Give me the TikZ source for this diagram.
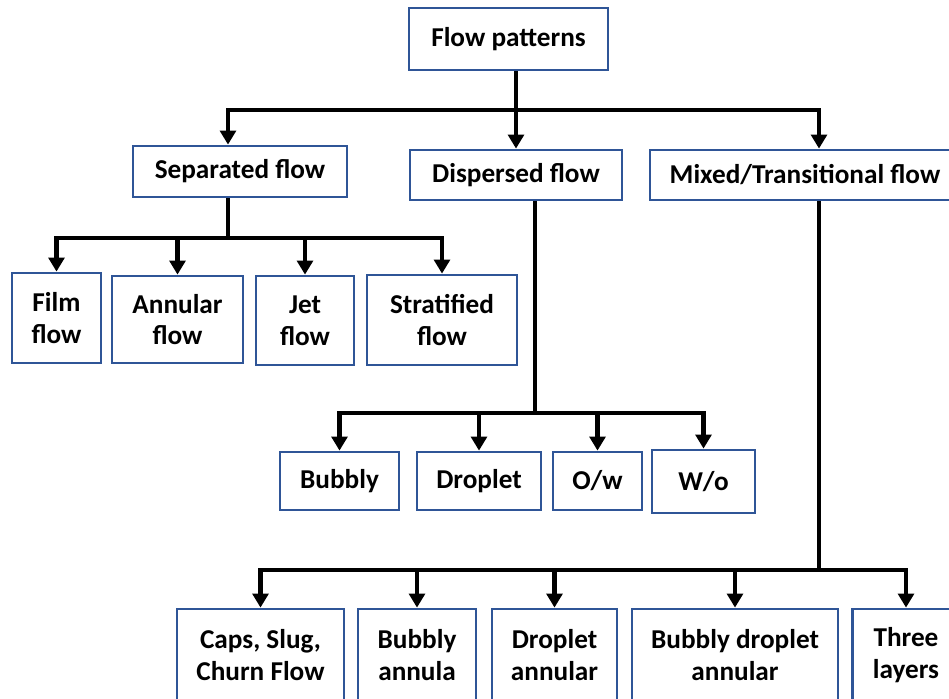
\documentclass[tikz,border=0pt]{standalone}
\usepackage{fontspec}
\setmainfont{Carlito}
\usetikzlibrary{arrows.meta}
\definecolor{boxblue}{RGB}{47,85,151}
\tikzset{box/.style={draw=boxblue,line width=1.6pt,fill=white,align=center,inner sep=0pt,
  font=\bfseries\fontsize{15.5}{18}\selectfont}}

\begin{document}
\begin{tikzpicture}[x=0.02cm,y=-0.02cm,>={Triangle[width=9pt,length=8pt]},line width=2.3pt]
    \useasboundingbox (0,0) rectangle (949,698);
    \clip (0,0) rectangle (949,698);
    % top level
    \node[box,minimum width=3.98cm,minimum height=1.24cm] (fp) at (508.5,39) {Flow patterns};
    \node[box,minimum width=4.28cm,minimum height=1.02cm] (sep) at (240,171.5) {Separated flow};
    \node[box,minimum width=4.24cm,minimum height=1cm] (dis) at (516,175) {Dispersed flow};
    \node[box,minimum width=6.2cm,minimum height=1cm] (mix) at (805,175) {Mixed/Transitional flow};
    % separated
    \node[box,minimum width=1.78cm,minimum height=1.8cm] (film) at (56.5,318) {Film\\flow};
    \node[box,minimum width=2.62cm,minimum height=1.74cm] (ann) at (177.5,319.5) {Annular\\flow};
    \node[box,minimum width=1.96cm,minimum height=1.78cm] (jet) at (305,320.5) {Jet\\flow};
    \node[box,minimum width=3cm,minimum height=1.8cm] (strat) at (442,320) {Stratified\\flow};
    % dispersed
    \node[box,minimum width=2.38cm,minimum height=1.16cm] (bub) at (339.5,481) {Bubbly};
    \node[box,minimum width=2.48cm,minimum height=1.16cm] (drop) at (479,481) {Droplet};
    \node[box,minimum width=1.78cm,minimum height=1.16cm] (ow) at (597.5,481) {O/w};
    \node[box,minimum width=2.06cm,minimum height=1.26cm] (wo) at (703.5,481.5) {W/o};
    % mixed
    \node[box,minimum width=3.34cm,minimum height=1.84cm] (caps) at (260.5,655) {Caps, Slug,\\Churn Flow};
    \node[box,minimum width=2.36cm,minimum height=1.84cm] (ba) at (417,655) {Bubbly\\annula};
    \node[box,minimum width=2.5cm,minimum height=1.84cm] (da) at (554.5,655) {Droplet\\annular};
    \node[box,minimum width=4.12cm,minimum height=1.84cm] (bda) at (735,655) {Bubbly droplet\\annular};
    \node[box,minimum width=2.14cm,minimum height=1.84cm] (three) at (906,655) {Three\\layers};
    % bus points
    \coordinate (b1) at (516,110);
    \coordinate (bs) at (228,238);
    \coordinate (bd) at (535,413);
    \coordinate (bm) at (819,570);
    % connectors
    \draw (fp.south -| b1) -- (b1);
    \draw[->] (b1) -| (sep.north -| bs);
    \draw[->] (b1) -- (dis.north -| b1);
    \draw[->] (b1) -| (mix.north -| bm);
    \draw (sep.south -| bs) -- (bs);
    \foreach \n in {film,ann,jet,strat}
        \draw[->] (bs) -| (\n.north);
    \draw (dis.south -| bd) -- (bd);
    \foreach \n in {bub,drop,ow,wo}
        \draw[->] (bd) -| (\n.north);
    \draw (mix.south -| bm) -- (bm);
    \foreach \n in {caps,ba,da,bda,three}
        \draw[->] (bm) -| (\n.north);
\end{tikzpicture}
\end{document}
